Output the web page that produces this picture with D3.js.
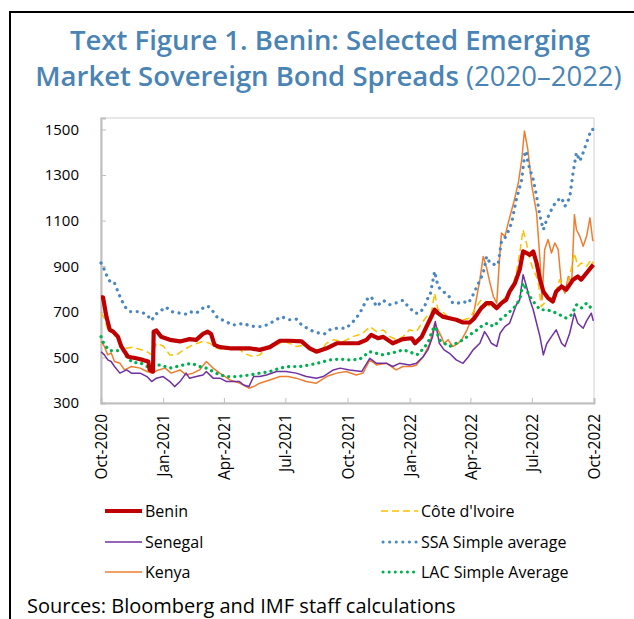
<!DOCTYPE html>
<html>
<head>
<meta charset="utf-8">
<script src="https://cdn.jsdelivr.net/npm/d3@7"></script>
<style>
  body { margin: 0; background: #fff; }
  svg { display: block; font-family: "Open Sans", "Noto Sans", sans-serif; }
</style>
</head>
<body>
<svg id="chart" width="634" height="619"></svg>
<script>
// spreads in basis points (date, value)
const benin = [["2020-10-01",763],["2020-10-04",763],["2020-10-09",679],["2020-10-14",621],["2020-10-19",613],["2020-10-26",591],["2020-10-31",548],["2020-11-05",525],["2020-11-10",503],["2020-11-22",496],["2020-12-02",489],["2020-12-10",482],["2020-12-12",445],["2020-12-17",438],["2020-12-18",613],["2020-12-22",618],["2020-12-29",591],["2021-01-11",577],["2021-01-26",570],["2021-02-09",580],["2021-02-19",577],["2021-03-01",603],["2021-03-08",613],["2021-03-13",603],["2021-03-18",555],["2021-03-26",545],["2021-04-10",540],["2021-04-24",540],["2021-05-09",540],["2021-05-24",533],["2021-06-08",545],["2021-06-23",573],["2021-07-07",573],["2021-07-25",570],["2021-08-06",540],["2021-08-16",525],["2021-08-31",540],["2021-09-15",562],["2021-09-29",562],["2021-10-17",562],["2021-10-29",577],["2021-11-05",599],["2021-11-15",584],["2021-11-23",590],["2021-12-07",562],["2021-12-22",580],["2022-01-04",584],["2022-01-09",562],["2022-01-19",591],["2022-01-26",635],["2022-01-31",665],["2022-02-07",709],["2022-02-12",694],["2022-02-19",679],["2022-03-01",672],["2022-03-11",665],["2022-03-21",653],["2022-03-31",653],["2022-04-07",672],["2022-04-17",716],["2022-04-25",738],["2022-05-02",738],["2022-05-10",716],["2022-05-17",738],["2022-05-24",753],["2022-05-29",789],["2022-06-06",826],["2022-06-13",885],["2022-06-18",965],["2022-06-23",958],["2022-06-28",950],["2022-07-03",965],["2022-07-08",914],["2022-07-13",841],["2022-07-18",789],["2022-07-25",760],["2022-08-01",745],["2022-08-06",789],["2022-08-14",811],["2022-08-21",797],["2022-08-31",841],["2022-09-07",855],["2022-09-12",841],["2022-09-20",870],["2022-09-30",907]];

const coteDIvoire = [["2020-10-01",694],["2020-10-06",672],["2020-10-11",621],["2020-10-19",606],["2020-10-29",562],["2020-11-08",540],["2020-11-17",545],["2020-11-28",535],["2020-12-08",525],["2020-12-15",511],["2020-12-22",562],["2021-01-01",550],["2021-01-11",511],["2021-01-21",511],["2021-01-31",533],["2021-02-14",555],["2021-03-01",570],["2021-03-11",562],["2021-03-21",540],["2021-04-05",535],["2021-04-24",540],["2021-04-30",518],["2021-05-15",503],["2021-05-24",511],["2021-06-03",540],["2021-06-18",555],["2021-06-28",570],["2021-07-07",562],["2021-07-17",548],["2021-08-01",555],["2021-08-09",533],["2021-08-21",525],["2021-08-31",562],["2021-09-10",577],["2021-09-25",570],["2021-10-09",591],["2021-10-24",606],["2021-11-03",635],["2021-11-13",613],["2021-11-23",620],["2021-12-03",591],["2021-12-13",577],["2021-12-22",591],["2022-01-01",621],["2022-01-11",613],["2022-01-19",650],["2022-01-26",679],["2022-01-31",690],["2022-02-02",694],["2022-02-07",782],["2022-02-12",709],["2022-02-19",700],["2022-03-01",672],["2022-03-11",665],["2022-03-21",665],["2022-03-31",672],["2022-04-07",709],["2022-04-17",753],["2022-04-25",738],["2022-05-02",716],["2022-05-10",725],["2022-05-17",745],["2022-05-24",767],["2022-06-01",797],["2022-06-08",870],["2022-06-13",958],["2022-06-18",1060],["2022-06-23",1002],["2022-06-28",929],["2022-07-03",885],["2022-07-10",841],["2022-07-15",723],["2022-07-20",740],["2022-07-27",753],["2022-08-04",770],["2022-08-11",841],["2022-08-19",797],["2022-08-26",855],["2022-09-02",958],["2022-09-07",899],["2022-09-12",914],["2022-09-20",899],["2022-09-27",929],["2022-09-30",910]];

const senegal = [["2020-10-01",525],["2020-10-06",511],["2020-10-11",489],["2020-10-16",482],["2020-10-21",460],["2020-10-29",431],["2020-11-08",445],["2020-11-15",431],["2020-11-28",431],["2020-12-08",416],["2020-12-15",394],["2020-12-22",409],["2021-01-01",416],["2021-01-11",394],["2021-01-18",372],["2021-01-26",394],["2021-02-04",431],["2021-02-09",409],["2021-02-19",416],["2021-03-01",423],["2021-03-06",438],["2021-03-16",409],["2021-03-26",409],["2021-04-05",394],["2021-04-16",394],["2021-04-24",394],["2021-04-30",379],["2021-05-08",372],["2021-05-15",416],["2021-05-24",416],["2021-06-03",423],["2021-06-18",438],["2021-07-02",438],["2021-07-17",431],["2021-08-01",416],["2021-08-16",409],["2021-08-26",416],["2021-09-10",445],["2021-09-20",453],["2021-10-04",445],["2021-10-22",438],["2021-11-03",496],["2021-11-13",474],["2021-11-28",474],["2021-12-07",460],["2021-12-17",474],["2022-01-01",467],["2022-01-11",474],["2022-01-21",503],["2022-01-28",533],["2022-02-04",591],["2022-02-08",657],["2022-02-14",562],["2022-02-21",533],["2022-03-01",518],["2022-03-11",489],["2022-03-21",474],["2022-03-29",503],["2022-04-05",533],["2022-04-15",562],["2022-04-22",613],["2022-04-27",590],["2022-05-02",562],["2022-05-10",548],["2022-05-15",606],["2022-05-22",635],["2022-05-29",650],["2022-06-08",731],["2022-06-13",753],["2022-06-18",863],["2022-06-23",811],["2022-06-28",753],["2022-07-03",709],["2022-07-08",650],["2022-07-13",591],["2022-07-18",511],["2022-07-23",560],["2022-07-30",591],["2022-08-06",621],["2022-08-14",562],["2022-08-19",548],["2022-08-26",606],["2022-09-02",694],["2022-09-07",650],["2022-09-15",628],["2022-09-20",660],["2022-09-27",694],["2022-09-30",660]];

const ssaAverage = [["2020-10-01",914],["2020-10-06",885],["2020-10-11",848],["2020-10-16",826],["2020-10-21",826],["2020-10-26",789],["2020-10-31",753],["2020-11-07",716],["2020-11-13",701],["2020-11-28",701],["2020-12-08",687],["2020-12-15",662],["2020-12-20",687],["2020-12-27",701],["2021-01-05",721],["2021-01-13",701],["2021-01-26",694],["2021-02-04",690],["2021-02-09",701],["2021-02-19",694],["2021-03-01",716],["2021-03-08",726],["2021-03-16",701],["2021-03-23",672],["2021-04-05",657],["2021-04-12",643],["2021-04-20",643],["2021-04-30",650],["2021-05-09",638],["2021-05-19",635],["2021-05-29",635],["2021-06-13",657],["2021-06-25",679],["2021-07-07",665],["2021-07-17",668],["2021-07-25",643],["2021-08-06",621],["2021-08-16",609],["2021-08-28",603],["2021-09-05",621],["2021-09-15",628],["2021-09-29",628],["2021-10-07",650],["2021-10-14",672],["2021-10-22",709],["2021-10-29",753],["2021-11-05",767],["2021-11-13",723],["2021-11-23",750],["2021-12-03",731],["2021-12-13",740],["2021-12-22",750],["2021-12-30",723],["2022-01-09",694],["2022-01-16",694],["2022-01-23",723],["2022-01-28",760],["2022-01-31",767],["2022-02-07",877],["2022-02-12",811],["2022-02-19",789],["2022-02-27",775],["2022-03-06",738],["2022-03-14",738],["2022-03-21",745],["2022-03-29",738],["2022-04-05",775],["2022-04-12",819],["2022-04-20",870],["2022-04-25",943],["2022-04-30",914],["2022-05-07",907],["2022-05-12",907],["2022-05-17",1009],["2022-05-24",1031],["2022-06-01",1090],["2022-06-08",1192],["2022-06-16",1280],["2022-06-21",1405],["2022-06-23",1400],["2022-06-25",1354],["2022-07-03",1280],["2022-07-08",1207],["2022-07-13",1119],["2022-07-18",1060],["2022-07-23",1104],["2022-07-30",1148],["2022-08-06",1185],["2022-08-14",1200],["2022-08-19",1163],["2022-08-26",1200],["2022-08-31",1310],["2022-09-05",1398],["2022-09-10",1361],["2022-09-15",1398],["2022-09-20",1441],["2022-09-27",1500],["2022-09-30",1500]];

const kenya = [["2020-10-01",570],["2020-10-06",548],["2020-10-11",511],["2020-10-16",520],["2020-10-21",482],["2020-10-29",474],["2020-11-05",445],["2020-11-15",460],["2020-11-28",453],["2020-12-08",438],["2020-12-15",431],["2020-12-25",445],["2021-01-04",453],["2021-01-13",431],["2021-01-26",445],["2021-02-04",423],["2021-02-14",431],["2021-02-24",445],["2021-03-06",482],["2021-03-16",453],["2021-03-26",431],["2021-04-10",401],["2021-04-24",387],["2021-04-30",379],["2021-05-08",365],["2021-05-15",372],["2021-05-24",387],["2021-06-08",401],["2021-06-23",416],["2021-07-05",416],["2021-07-17",409],["2021-08-01",394],["2021-08-16",387],["2021-08-31",416],["2021-09-15",431],["2021-09-29",438],["2021-10-14",423],["2021-10-24",431],["2021-11-03",489],["2021-11-13",467],["2021-11-28",474],["2021-12-12",445],["2021-12-22",460],["2022-01-04",460],["2022-01-11",467],["2022-01-21",503],["2022-01-31",562],["2022-02-07",650],["2022-02-12",621],["2022-02-17",591],["2022-02-21",562],["2022-02-27",577],["2022-03-06",548],["2022-03-14",562],["2022-03-19",577],["2022-03-27",621],["2022-03-31",650],["2022-04-05",679],["2022-04-11",775],["2022-04-15",841],["2022-04-20",943],["2022-04-25",892],["2022-04-30",826],["2022-05-05",767],["2022-05-10",738],["2022-05-14",929],["2022-05-17",1046],["2022-05-22",1030],["2022-05-27",1090],["2022-06-04",1178],["2022-06-11",1266],["2022-06-16",1368],["2022-06-20",1493],["2022-06-25",1412],["2022-07-01",1251],["2022-07-08",1134],["2022-07-13",929],["2022-07-16",753],["2022-07-20",973],["2022-07-25",1017],["2022-07-30",958],["2022-08-04",1002],["2022-08-09",973],["2022-08-14",811],["2022-08-19",782],["2022-08-24",855],["2022-08-29",826],["2022-09-02",1126],["2022-09-05",1060],["2022-09-10",1031],["2022-09-15",987],["2022-09-20",1031],["2022-09-25",1112],["2022-09-29",1017],["2022-09-30",1010]];

const lacAverage = [["2020-10-01",591],["2020-10-06",555],["2020-10-14",530],["2020-10-24",530],["2020-11-03",530],["2020-11-08",503],["2020-11-17",477],["2020-11-28",477],["2020-12-08",460],["2020-12-17",463],["2020-12-27",467],["2021-01-11",453],["2021-01-21",460],["2021-01-31",467],["2021-02-12",474],["2021-02-24",460],["2021-03-06",453],["2021-03-16",438],["2021-03-26",423],["2021-04-05",416],["2021-04-20",416],["2021-05-09",423],["2021-05-24",431],["2021-06-08",438],["2021-06-23",453],["2021-07-07",460],["2021-07-23",460],["2021-08-06",467],["2021-08-21",477],["2021-09-05",489],["2021-09-20",492],["2021-10-04",489],["2021-10-19",492],["2021-11-03",525],["2021-11-13",518],["2021-11-23",511],["2021-12-03",518],["2021-12-13",525],["2021-12-22",533],["2022-01-01",525],["2022-01-11",511],["2022-01-16",518],["2022-01-21",540],["2022-01-28",562],["2022-02-04",621],["2022-02-08",635],["2022-02-14",577],["2022-02-21",562],["2022-03-01",548],["2022-03-11",562],["2022-03-21",577],["2022-03-31",599],["2022-04-11",621],["2022-04-20",643],["2022-04-27",650],["2022-05-05",635],["2022-05-15",665],["2022-05-24",687],["2022-06-04",716],["2022-06-13",753],["2022-06-18",826],["2022-06-23",797],["2022-06-28",767],["2022-07-05",738],["2022-07-13",709],["2022-07-23",709],["2022-08-01",701],["2022-08-11",687],["2022-08-21",672],["2022-08-29",687],["2022-09-05",731],["2022-09-12",716],["2022-09-20",738],["2022-09-27",716],["2022-09-30",705]];

const yTicks = [300, 500, 700, 900, 1100, 1300, 1500];
const xTicks = ["2020-10-01","2021-01-01","2021-04-01","2021-07-01","2021-10-01","2022-01-01","2022-04-01","2022-07-01","2022-10-01"];

const parse = d3.timeParse("%Y-%m-%d");

// drawing order: first drawn sits underneath
const series = [
  { name: "Kenya", data: kenya, color: "#ED7D31", width: 1.5, dash: null },
  { name: "Senegal", data: senegal, color: "#7030A0", width: 1.5, dash: null },
  { name: "Côte d'Ivoire", data: coteDIvoire, color: "#FFC000", width: 1.5, dash: "7,4" },
  { name: "LAC Simple Average", data: lacAverage, color: "#00B050", width: 3.2, dash: "0.1,6", cap: "round" },
  { name: "SSA Simple average", data: ssaAverage, color: "#4A86C0", width: 3.2, dash: "0.1,6.5", cap: "round" },
  { name: "Benin", data: benin, color: "#C00000", width: 4.2, dash: null }
];

const svg = d3.select("#chart");

// outer frame
svg.append("rect")
  .attr("x", 10).attr("y", 12)
  .attr("width", 650).attr("height", 700)
  .attr("fill", "none").attr("stroke", "#000").attr("stroke-width", 2);

// title
const title = svg.append("g").attr("fill", "#4A84B5").attr("text-anchor", "middle");
title.append("text")
  .attr("x", 330).attr("y", 50)
  .attr("font-size", 27.5).attr("font-weight", 600)
  .text("Text Figure 1. Benin: Selected Emerging");
const t2 = title.append("text")
  .attr("x", 328.5).attr("y", 86)
  .attr("font-size", 27.5);
t2.append("tspan").attr("font-weight", 600).text("Market Sovereign Bond Spreads");
t2.append("tspan").attr("font-weight", 400).text(" (2020\u20132022)");

const x = d3.scaleTime()
  .domain([parse("2020-10-01"), parse("2022-10-01")])
  .range([101, 594]);

const y = d3.scaleLinear()
  .domain([300, 1550])
  .range([403, 118]);

// plot frame
svg.append("rect")
  .attr("x", 101).attr("y", 118)
  .attr("width", 493).attr("height", 285)
  .attr("fill", "none").attr("stroke", "#D0D0D0").attr("stroke-width", 1);

// y axis
const yAxis = svg.append("g")
  .attr("transform", "translate(101,0)")
  .call(d3.axisLeft(y).tickValues(yTicks).tickSize(-5).tickPadding(22).tickFormat(d3.format("d")));
yAxis.select(".domain").attr("stroke", "#BFBFBF").attr("stroke-width", 2);
yAxis.selectAll(".tick line").attr("stroke", "#BFBFBF");
yAxis.selectAll(".tick text")
  .attr("font-size", 15).attr("fill", "#000")
  .attr("font-family", "\"Open Sans\", sans-serif");

// x axis
const xAxis = svg.append("g")
  .attr("transform", "translate(0,403)")
  .call(d3.axisBottom(x).tickValues(xTicks.map(parse)).tickSize(-5).tickFormat(d3.timeFormat("%b-%Y")));
xAxis.select(".domain").attr("stroke", "#BFBFBF").attr("stroke-width", 2);
xAxis.selectAll(".tick line").attr("stroke", "#BFBFBF");
xAxis.selectAll(".tick text")
  .attr("font-size", 15.5).attr("fill", "#000")
  .attr("font-family", "\"Open Sans\", sans-serif")
  .attr("text-anchor", "end")
  .attr("transform", "translate(0,11) rotate(-90)")
  .attr("x", 0).attr("y", 0).attr("dy", "0.36em");

// lines
const line = d3.line()
  .x(d => x(parse(d[0])))
  .y(d => y(d[1]));

svg.append("g")
  .selectAll("path")
  .data(series)
  .enter().append("path")
  .attr("d", d => line(d.data))
  .attr("fill", "none")
  .attr("stroke", d => d.color)
  .attr("stroke-width", d => d.width)
  .attr("stroke-dasharray", d => d.dash)
  .attr("stroke-linecap", d => d.cap || "butt")
  .attr("stroke-linejoin", "round");

// legend
const legendItems = [
  { s: series[5], x: 105, y: 511 },
  { s: series[1], x: 105, y: 542 },
  { s: series[0], x: 105, y: 572 },
  { s: series[2], x: 381, y: 511 },
  { s: series[4], x: 381, y: 542 },
  { s: series[3], x: 381, y: 572 }
];

const legend = svg.append("g")
  .selectAll("g")
  .data(legendItems)
  .enter().append("g")
  .attr("transform", d => `translate(${d.x},${d.y})`);

legend.append("line")
  .attr("x1", d => d.s.cap ? 2 : 0).attr("x2", 37)
  .attr("y1", 0).attr("y2", 0)
  .attr("stroke", d => d.s.color)
  .attr("stroke-width", d => d.s.name === "Benin" ? 4 : (d.s.cap ? 3 : 1.5))
  .attr("stroke-dasharray", d => d.s.dash)
  .attr("stroke-linecap", d => d.s.cap || "butt");

legend.append("text")
  .attr("x", 40).attr("dy", "0.36em")
  .attr("font-size", 16).attr("fill", "#000")
  .text(d => d.s.name);

// source note
svg.append("text")
  .attr("x", 27).attr("y", 613)
  .attr("font-size", 20).attr("fill", "#000")
  .text("Sources: Bloomberg and IMF staff calculations");
</script>
</body>
</html>
